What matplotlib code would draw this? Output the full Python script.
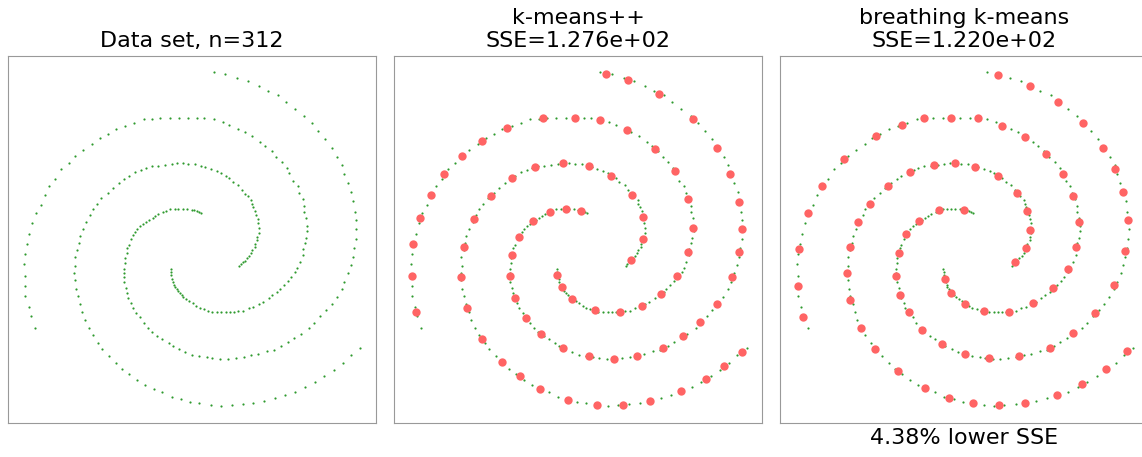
import numpy as np
import matplotlib.pyplot as plt

# данные: три спиральных рукава (координаты)
arm1 = [
    (200.7, 213), (198.7, 212.3), (196.7, 211.3), (194, 210.3), (191.7, 209.7),
    (187.3, 209.3), (182.7, 209), (178.3, 209), (174.7, 209), (170, 209),
    (165.7, 211), (163.3, 212.3), (158.3, 214.3), (155.3, 216), (152.7, 218.3),
    (149.3, 220), (146, 222), (143.3, 224), (140.3, 226.3), (137.3, 229.3),
    (135.3, 232), (132.7, 235), (131.3, 238.7),
    (128.7, 245), (127, 248.3), (126.7, 252.7), (124.7, 257.7), (124.7, 262.7),
    (123.7, 269), (123.7, 273), (123.7, 277.3), (124, 281.7), (126, 288.3),
    (127, 293.3), (128.3, 298), (131, 303.3), (132.7, 307.7), (136.3, 313.3),
    (140, 317), (143.7, 323), (147.7, 327.7), (151.7, 332), (157.3, 336.3),
    (162.3, 339), (168.7, 343), (172.7, 346), (179, 349.3), (185.3, 351.7),
    (192.3, 354.7), (199.3, 356),
    (207, 357.3), (212.3, 358), (220.3, 359), (227.7, 359), (235.7, 358),
    (243.7, 357.3), (251, 355), (258, 353.7), (267, 351), (274, 350),
    (281.3, 346), (287.7, 342.3), (294.3, 338.3), (301, 334.3), (309.3, 327.7),
    (314, 323), (320.3, 316.3), (326, 310.3), (331.7, 303.7), (336.7, 297.3),
    (341.7, 289.3), (344.3, 281.7), (348, 273.3), (350.7, 265.3), (352.7, 256.7),
    (354, 247.7), (355.7, 239),
    (356.3, 229), (355.7, 220.3), (354.7, 211.7), (353.3, 200.7), (351.3, 192.3),
    (347.7, 183.3), (344.3, 173.7), (342, 165), (337.3, 156.7), (331.7, 148.3),
    (325.3, 139.3), (318.3, 131.3), (311.7, 122.7), (304.3, 116), (295, 109),
    (286, 102.3), (278, 95.3), (267.7, 91.3), (259, 86.3), (248, 81),
    (237.3, 78.3), (225.3, 74.3), (214, 72),
]

arm2 = [
    (239.3, 266), (241, 264), (243, 262.3), (244.7, 261), (246.7, 258.3),
    (249, 255.7), (251, 253), (252, 250.3), (254.7, 247), (254.7, 243.7),
    (257.3, 240), (257, 236.7),
    (258.7, 232.7), (258.7, 228.3), (258, 223), (257.7, 219), (256.3, 215.3),
    (255.3, 210.7), (253.3, 206.7), (252, 203.7), (251.3, 199.7), (247.7, 196.3),
    (245, 193.7), (242, 190), (238.3, 185), (233, 182.3), (229.3, 177.7),
    (226.3, 176), (221.3, 173), (217, 171), (211, 168.7), (205.3, 166.7),
    (200.7, 165.7), (195.3, 164.3),
    (188.3, 164), (182.7, 163), (177, 162.7), (171.7, 163.7), (165, 164.7),
    (158, 165.7), (151.7, 166.3), (145.7, 168), (141, 170.3), (135, 172.3),
    (128.7, 176), (124, 179), (118.7, 183.3), (112.7, 188), (107.7, 193.3),
    (101.3, 198.3), (97, 204.3), (92.7, 209.3), (90, 215.3), (86.3, 221.7),
    (83, 229.3), (80, 236.3),
    (79, 242.7), (77.3, 250), (75, 257.3), (75.3, 266), (74.3, 273),
    (75, 280.3), (76, 289), (77.7, 296.3), (80, 303.7), (82.3, 312.3),
    (84.7, 319.7), (88.7, 327.7), (92.7, 335), (98.3, 342.7), (102.3, 348.7),
    (109.3, 355.7), (116, 363), (122.3, 368.7), (129.3, 374), (137.3, 379.7),
    (145.3, 384.7), (154, 388.7), (162.3, 392.3), (171.7, 396.7), (181.3, 399),
    (190.3, 402.3), (199.3, 403),
    (211, 405.3), (221.3, 406.3), (231.7, 405.3), (243, 404.3), (253.3, 403),
    (263.7, 401), (274.7, 398), (284.7, 394.7), (295, 391.7), (305.3, 387),
    (314.7, 382), (324.3, 375.7), (334, 370), (343, 362.7), (351, 354.7),
    (360.3, 347.7),
]

arm3 = [
    (170.7, 269.3), (171, 271.7), (171.3, 275), (172.3, 279), (173, 282.3),
    (174, 285), (174.7, 287), (176.7, 289.3), (178, 291.3), (180, 293),
    (181.7, 295.3), (183.3, 297), (186.3, 299), (189.3, 301), (192.7, 303.3),
    (196.3, 305.7), (199.7, 307.7),
    (204, 309), (208.3, 311), (212, 311.7), (216.7, 312.3), (221.3, 312.3),
    (225.7, 312.3), (229.7, 312.3), (233.7, 312.3), (238.3, 311.3), (243.3, 311),
    (248.7, 308.3), (253.3, 307), (259, 304.3), (263, 301.7), (268.7, 297.7),
    (272.3, 295.3), (277.3, 292.3), (280, 288.7), (284, 285), (288, 280.7),
    (291, 277), (295.3, 272.3), (297.3, 267.7), (300, 262), (303, 255.3),
    (303, 249), (304.7, 243.3), (306, 238),
    (307.3, 231), (307, 225.7), (306.3, 217.7), (304.3, 212.3), (304.3, 205.7),
    (302.7, 199.3), (299.3, 193.3), (297.7, 186.3), (293, 181), (289.3, 173.3),
    (287, 167.7), (282, 161.7), (276.3, 157), (271.7, 151), (265.3, 146),
    (260.3, 141.7), (252.3, 136.3), (245, 132), (238.3, 129), (229.3, 124.7),
    (223, 122), (214, 119.3), (204.3, 118.3), (197.3, 117.7),
    (187.7, 117.7), (179.3, 117.7), (170, 117.7), (160.3, 117.7), (152.3, 119),
    (144, 119.3), (134.3, 123), (125.3, 126.3), (116, 129), (107.7, 133.7),
    (99.7, 137.7), (92, 144.3), (83, 149.7), (75, 156.3), (68.7, 162.7),
    (61.3, 168.7), (55.3, 178.7), (49.3, 186.3), (44.7, 194.7), (40.7, 205),
    (36, 213), (32.3, 222.7), (29.3, 233.7),
    (27.3, 244.3), (25.3, 254), (24.3, 264.3), (25.3, 275.7), (25.3, 286),
    (25.3, 296.3), (28.7, 307.3), (31, 316.3), (35, 328.3),
]

# центроиды k-means++
kmpp = [
    (219.7, 73.7), (241.7, 80), (272.4, 93.7), (306.7, 119.3), (330.7, 148.3),
    (344, 173.7), (353, 202), (355.4, 229.3),
    (156.4, 118.3), (188.4, 117.7), (214, 120), (241, 130.3), (268.4, 149),
    (288.4, 170.7), (302, 199.3), (306.7, 228.3),
    (120.4, 128), (95.7, 140.7), (75.4, 156.3), (58, 174), (44.4, 195.3),
    (34, 217.7),
    (177, 163.3), (202.7, 166.3), (225, 176.3), (246, 194.7), (256.4, 217),
    (256.4, 239.3),
    (149, 167.3), (126, 177.7), (104.4, 196), (87.7, 219.3),
    (163.7, 211.7), (179.7, 209), (194.7, 210.7), (146.7, 221), (132.4, 237),
    (26.7, 244), (25.4, 275.7), (30, 312.3),
    (78, 246.7), (74.7, 277), (80.7, 308.3), (95.7, 339), (115.7, 362),
    (133.4, 376.3), (153.4, 388.7), (181.4, 399.7), (210.7, 404.7), (237, 404.7),
    (263.4, 400.7), (294.7, 391), (319.4, 379), (337.7, 366), (355.4, 351.7),
    (125.4, 255.3), (123.4, 275.7), (128.4, 298), (139.7, 318), (154.7, 334),
    (176.4, 347.7), (202.7, 356.3), (227.4, 359), (250.7, 355.7), (277, 347.7),
    (297, 335.7), (313.7, 322), (330.7, 303.7), (345.7, 277.3), (353, 252.3),
    (245, 260.3),
    (171, 274.7), (175.7, 286.7), (186, 298.7), (208.4, 310), (233.7, 311.7),
    (255.4, 306), (274.7, 294), (290.7, 276.3), (302, 252.3),
]

# центроиды breathing k-means
bkm = [
    (225.1, 75), (257.1, 86.3), (285.7, 102.3), (310.4, 123.3), (330.4, 148),
    (342.7, 169), (350.4, 192), (355.1, 220.3),
    (129.1, 124.7), (151.4, 118.3), (178.4, 117.7), (205.1, 118.3), (229.7, 125.7),
    (252.1, 136.7), (273.7, 153.7), (290.4, 173.7), (300.7, 196), (306.1, 221.7),
    (103.4, 136), (71.4, 159.3), (49.1, 186.3), (35.7, 213),
    (161.1, 164.7), (182.7, 163.3), (202.7, 166.7), (225.1, 176), (244, 192.7),
    (254.4, 211.3), (257.7, 230.3),
    (137.4, 172), (115.4, 185.7), (97.1, 204), (85.7, 222.3),
    (166.7, 210.3), (191.4, 210.3), (146.7, 221), (133.7, 234.3),
    (26.1, 249), (25.1, 286), (30.7, 317),
    (77.1, 246.7), (74.4, 273), (77.7, 300.3), (88.1, 327.7), (102.7, 349.3),
    (125.7, 370.7), (152.7, 388.3), (176.1, 398), (200.4, 402.7), (226.4, 405.3),
    (252.7, 402.7), (284.1, 395), (309.7, 384.3), (333.1, 369), (354.4, 351.3),
    (126.1, 253), (123.4, 275.7), (127.7, 295.3), (136.1, 312.3), (149.1, 330),
    (169.7, 344.3), (192.4, 354), (216.1, 358), (246.4, 356.3), (277.1, 347.7),
    (300.7, 333), (322.4, 313.3), (341.4, 285), (352.7, 251.3),
    (253.1, 248.3), (242.4, 261.7),
    (172.1, 278.7), (178.7, 293), (192.4, 303.7), (211.4, 311), (236.1, 311.7),
    (260.4, 302.7), (280.4, 288.3), (295.4, 269), (303.4, 246.7),
]

titles = ["Data set, n=312", "k-means++\nSSE=1.276e+02",
          "breathing k-means\nSSE=1.220e+02"]
note = "4.38% lower SSE"

X = np.array(arm1 + arm2 + arm3)
cents = [None, np.array(kmpp), np.array(bkm)]

fig = plt.figure(figsize=(11.42, 4.57), dpi=100)
W, H = 1142, 457
for i in range(3):
    left = 7.7 + i * 386.3
    ax = fig.add_axes([left / W, (H - 422.7) / H, 368 / W, 367 / H])
    ax.scatter(X[:, 0], X[:, 1], s=2.5, c="#2e9a2e", linewidths=0, zorder=2)
    if cents[i] is not None:
        c = cents[i]
        ax.scatter(c[:, 0], c[:, 1], s=36, c="#ff6464", linewidths=0, zorder=3)
    ax.set_xlim(7.7, 375.7)
    ax.set_ylim(422.7, 55.7)
    ax.set_xticks([])
    ax.set_yticks([])
    for sp in ax.spines.values():
        sp.set_color("#999999")
    ax.set_title(titles[i], fontsize=16)
    if i == 2:
        # третья панель обрезана правым краем картинки
        ax.spines["right"].set_visible(False)
        ax.set_xlabel(note, fontsize=16)

fig.savefig("out.png", dpi=100)
